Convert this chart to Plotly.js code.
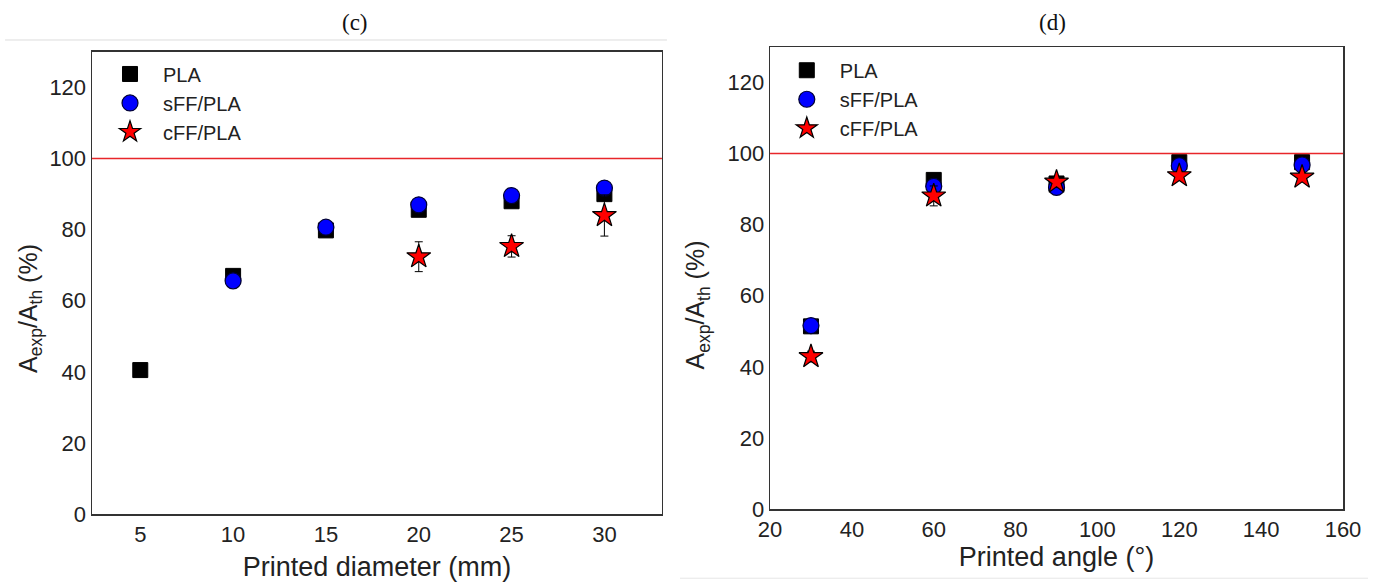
<!DOCTYPE html>
<html>
<head>
<meta charset="utf-8">
<script src="https://cdn.plot.ly/plotly-3.0.1.min.js"></script>
<style>html,body{margin:0;padding:0;background:#fff;}#chart{width:1373px;height:582px;}</style>
</head>
<body>
<div id="chart"></div>
<script>
// ---- Data: panel (c) ----
const diameters = [5, 10, 15, 20, 25, 30];
const plaDiam = [40.5, 67, 79.8, 85.6, 88, 90];
const plaDiamErr = [1.5, 1, 0.8, 0.8, 0.8, 1];
const sffDiamX = [10, 15, 20, 25, 30];
const sffDiam = [65.6, 80.7, 87, 89.6, 91.7];
const sffDiamErr = [0.8, 0.8, 0.8, 0.8, 0.8];
const cffDiamX = [20, 25, 30];
const cffDiam = [72.4, 75.3, 84];
const cffDiamErr = [4.2, 3, 5.8];

// ---- Data: panel (d) ----
const angles = [30, 60, 90, 120, 150];
const plaAng = [51.4, 92.6, 91.6, 97.6, 97.6];
const plaAngErr = [1, 1, 1, 1.5, 1.5];
const sffAng = [51.6, 90.8, 90.5, 96.6, 96.8];
const sffAngErr = [1, 1, 1, 1, 1];
const cffAng = [42.9, 88.1, 92, 93.8, 93.4];
const cffAngErr = [1.5, 2.8, 1.5, 1.2, 1.2];

const refLevel = 100;
const seriesNames = ['PLA', 'sFF/PLA', 'cFF/PLA'];
const panelTitles = ['(c)', '(d)'];
const xTitles = ['Printed diameter (mm)', 'Printed angle (°)'];
const yTitle = 'A<sub>exp</sub>/A<sub>th</sub> (%)';
const xTicksDiam = [5, 10, 15, 20, 25, 30];
const xTicksAng = [20, 40, 60, 80, 100, 120, 140, 160];
const yTicks = [0, 20, 40, 60, 80, 100, 120];

const sq = {symbol: 'square', size: 15, color: '#000000', line: {color: '#000000', width: 1}};
const ci = {symbol: 'circle', size: 16, color: '#0000ff', line: {color: '#000033', width: 1.2}};
const st = {symbol: 'star', size: 18, color: '#ff0000', line: {color: '#000000', width: 1.2}};
function err(arr) { return {type: 'data', array: arr, visible: true, color: '#000000', thickness: 1, width: 4}; }

const traces = [
  {x: diameters, y: plaDiam, error_y: err(plaDiamErr), mode: 'markers', marker: sq, name: seriesNames[0], xaxis: 'x', yaxis: 'y', legend: 'legend'},
  {x: sffDiamX, y: sffDiam, error_y: err(sffDiamErr), mode: 'markers', marker: ci, name: seriesNames[1], xaxis: 'x', yaxis: 'y', legend: 'legend'},
  {x: cffDiamX, y: cffDiam, error_y: err(cffDiamErr), mode: 'markers', marker: st, name: seriesNames[2], xaxis: 'x', yaxis: 'y', legend: 'legend'},
  {x: angles, y: plaAng, error_y: err(plaAngErr), mode: 'markers', marker: sq, name: seriesNames[0], xaxis: 'x2', yaxis: 'y2', legend: 'legend2'},
  {x: angles, y: sffAng, error_y: err(sffAngErr), mode: 'markers', marker: ci, name: seriesNames[1], xaxis: 'x2', yaxis: 'y2', legend: 'legend2'},
  {x: angles, y: cffAng, error_y: err(cffAngErr), mode: 'markers', marker: st, name: seriesNames[2], xaxis: 'x2', yaxis: 'y2', legend: 'legend2'}
];

const sans = 'Liberation Sans, Arial, sans-serif';
const tickFont = {family: sans, size: 22, color: '#222'};
const titleFont = {family: sans, size: 27, color: '#222'};
const yTitleFont = {family: sans, size: 25, color: '#222'};
const axBase = {showline: true, mirror: true, linecolor: '#333', linewidth: 1.5, showgrid: false, zeroline: false, ticks: '', tickfont: tickFont};
const legFont = {family: sans, size: 20, color: '#222'};

const layout = {
  width: 1373, height: 582,
  margin: {l: 92, r: 30, t: 47, b: 68},
  paper_bgcolor: '#ffffff', plot_bgcolor: '#ffffff',
  showlegend: true,
  xaxis: Object.assign({}, axBase, {domain: [0, 0.4556], range: [2.4, 33.1], tickmode: 'array', tickvals: xTicksDiam, anchor: 'y',
    title: {text: xTitles[0], font: titleFont, standoff: 12}}),
  yaxis: Object.assign({}, axBase, {domain: [0, 0.9893], range: [0, 130], tickmode: 'array', tickvals: yTicks, anchor: 'x'}),
  xaxis2: Object.assign({}, axBase, {domain: [0.542, 1], range: [20, 160], tickmode: 'array', tickvals: xTicksAng, anchor: 'y2',
    title: {text: xTitles[1], font: titleFont, standoff: 6}}),
  yaxis2: Object.assign({}, axBase, {domain: [0.0107, 1], range: [0, 130], tickmode: 'array', tickvals: yTicks, anchor: 'x2'}),
  legend: {x: 0.004, y: 0.984, xanchor: 'left', yanchor: 'top', bgcolor: 'rgba(0,0,0,0)', font: legFont, itemsizing: 'trace', itemwidth: 56},
  legend2: {x: 0.545, y: 0.992, xanchor: 'left', yanchor: 'top', bgcolor: 'rgba(0,0,0,0)', font: legFont, itemsizing: 'trace', itemwidth: 56},
  shapes: [
    {type: 'line', xref: 'x domain', yref: 'y', x0: 0, x1: 1, y0: refLevel, y1: refLevel, line: {color: '#e8262a', width: 1.5}},
    {type: 'line', xref: 'x2 domain', yref: 'y2', x0: 0, x1: 1, y0: refLevel, y1: refLevel, line: {color: '#e8262a', width: 1.5}},
    {type: 'line', xref: 'paper', yref: 'paper', x0: -0.0695, x1: 0.4596, y0: 1.015, y1: 1.015, line: {color: '#dddddd', width: 1}},
    {type: 'line', xref: 'paper', yref: 'paper', x0: 0.47, x1: 1.02, y0: -0.1375, y1: -0.1375, line: {color: '#e6e6e6', width: 1}}
  ],
  annotations: [
    {text: panelTitles[0], xref: 'paper', yref: 'paper', x: 0.2103, y: 1.0535, xanchor: 'center', yanchor: 'middle', showarrow: false,
      font: {family: 'Liberation Serif, Times New Roman, serif', size: 23, color: '#111'}},
    {text: panelTitles[1], xref: 'paper', yref: 'paper', x: 0.7674, y: 1.0535, xanchor: 'center', yanchor: 'middle', showarrow: false,
      font: {family: 'Liberation Serif, Times New Roman, serif', size: 23, color: '#111'}},
    {text: yTitle, xref: 'paper', yref: 'paper', x: -0.0496, y: 0.441, xanchor: 'center', yanchor: 'middle', textangle: -90, showarrow: false, font: yTitleFont},
    {text: yTitle, xref: 'paper', yref: 'paper', x: 0.484, y: 0.4475, xanchor: 'center', yanchor: 'middle', textangle: -90, showarrow: false, font: yTitleFont}
  ]
};

Plotly.newPlot('chart', traces, layout, {displayModeBar: false, staticPlot: true});
</script>
</body>
</html>
